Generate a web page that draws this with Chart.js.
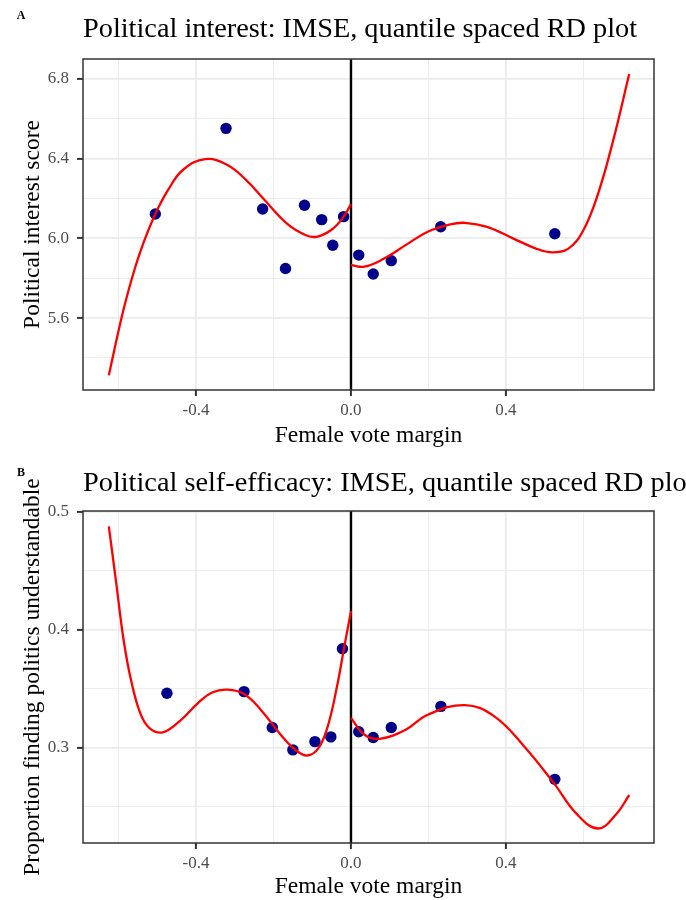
<!DOCTYPE html>
<html>
<head>
<meta charset="utf-8">
<script src="https://cdn.jsdelivr.net/npm/chart.js@4.4.1/dist/chart.umd.min.js"></script>
<style>
  html, body { margin: 0; padding: 0; background: #fff; }
  .panel { position: absolute; left: 0; width: 686px; height: 450px; }
  #panelA { top: 0; }
  #panelB { top: 450px; }
</style>
</head>
<body>
<div class="panel" id="panelA"><canvas id="chartA" width="686" height="450"></canvas></div>
<div class="panel" id="panelB"><canvas id="chartB" width="686" height="450"></canvas></div>
<script>
// shared x axis (female vote margin)
const xRange = [-0.6916, 0.782];
const cutoff = 0;

// Panel A: political interest, binned means
const interestBinX = [-0.505, -0.3225, -0.228, -0.169, -0.120, -0.0756, -0.047, -0.019, 0.020, 0.0574, 0.104, 0.2316, 0.526];
const interestBinY = [6.122, 6.552, 6.147, 5.849, 6.166, 6.094, 5.965, 6.109, 5.916, 5.821, 5.888, 6.058, 6.023];
// Panel A: polynomial fit
const interestFitLeftX = [-0.625, -0.5886, -0.56, -0.537, -0.505, -0.472, -0.434, -0.376, -0.319, -0.271, -0.223, -0.166, -0.118, -0.089, -0.051, -0.022, 0];
const interestFitLeftY = [5.313, 5.63, 5.835, 5.97, 6.122, 6.243, 6.343, 6.398, 6.368, 6.293, 6.192, 6.075, 6.017, 6.008, 6.042, 6.100, 6.172];
const interestFitRightX = [0, 0.035, 0.083, 0.141, 0.198, 0.256, 0.294, 0.351, 0.418, 0.476, 0.519, 0.562, 0.600, 0.638, 0.677, 0.718];
const interestFitRightY = [5.866, 5.858, 5.896, 5.966, 6.033, 6.070, 6.078, 6.058, 6.0, 5.950, 5.930, 5.950, 6.042, 6.226, 6.494, 6.825];
const interestRange = [5.239, 6.9];

// Panel B: political self-efficacy, binned means
const efficacyBinX = [-0.475, -0.276, -0.203, -0.150, -0.093, -0.052, -0.022, 0.020, 0.0574, 0.104, 0.232, 0.526];
const efficacyBinY = [0.346, 0.3474, 0.317, 0.298, 0.305, 0.309, 0.3837, 0.3133, 0.3085, 0.317, 0.3349, 0.273];
const efficacyFitLeftX = [-0.625, -0.606, -0.587, -0.568, -0.544, -0.520, -0.486, -0.443, -0.395, -0.357, -0.319, -0.276, -0.233, -0.185, -0.146, -0.113, -0.084, -0.060, -0.036, -0.017, 0];
const efficacyFitLeftY = [0.4875, 0.4399, 0.3916, 0.3576, 0.3292, 0.3165, 0.3128, 0.3221, 0.3377, 0.3468, 0.3491, 0.3454, 0.3321, 0.3122, 0.2986, 0.2932, 0.2994, 0.3179, 0.3519, 0.3860, 0.4157];
const efficacyFitRightX = [0, 0.035, 0.074, 0.141, 0.198, 0.294, 0.370, 0.447, 0.524, 0.581, 0.638, 0.686, 0.718];
const efficacyFitRightY = [0.325, 0.3108, 0.3074, 0.315, 0.3278, 0.336, 0.3264, 0.3009, 0.2696, 0.2441, 0.2313, 0.2441, 0.2597];
const efficacyRange = [0.219, 0.5006];

const serif = '"Liberation Serif", "DejaVu Serif", serif';

function zip(xs, ys) {
  return xs.map((x, i) => ({ x, y: ys[i] }));
}

function isMajor(v, step) {
  const r = v / step;
  return Math.abs(r - Math.round(r)) < 1e-6;
}

function fmt(v) {
  if (Math.abs(v) < 1e-9) v = 0;
  return v.toFixed(1);
}

// titles, panel letter, zero line and panel border
const panelText = {
  id: 'panelText',
  beforeDatasetsDraw(chart, args, opts) {
    const { ctx, chartArea, scales } = chart;
    const px = scales.x.getPixelForValue(cutoff);
    ctx.save();
    ctx.strokeStyle = '#000000';
    ctx.lineWidth = 2.4;
    ctx.beginPath();
    ctx.moveTo(px, chartArea.top);
    ctx.lineTo(px, chartArea.bottom);
    ctx.stroke();
    ctx.restore();
  },
  afterDatasetsDraw(chart, args, opts) {
    const { ctx, chartArea } = chart;
    ctx.save();
    ctx.strokeStyle = '#333333';
    ctx.lineWidth = 1.5;
    ctx.strokeRect(chartArea.left, chartArea.top, chartArea.right - chartArea.left, chartArea.bottom - chartArea.top);

    ctx.fillStyle = '#000000';
    ctx.font = 'bold 12px ' + serif;
    ctx.textAlign = 'center';
    ctx.textBaseline = 'alphabetic';
    ctx.fillText(opts.letter, 21, opts.letterY);

    ctx.font = '28.3px ' + serif;
    ctx.textAlign = 'left';
    ctx.fillText(opts.title, chartArea.left, opts.titleY);

    const cx = (chartArea.left + chartArea.right) / 2;
    const cy = (chartArea.top + chartArea.bottom) / 2;
    ctx.font = '23.5px ' + serif;
    ctx.textAlign = 'center';
    ctx.fillText(opts.xTitle, cx, opts.xTitleY);

    ctx.translate(38.5, cy);
    ctx.rotate(-Math.PI / 2);
    ctx.fillText(opts.yTitle, 0, 0);
    ctx.restore();
  }
};

function makePanel(canvasId, cfg) {
  const tickFont = { family: serif, size: 17 };
  const gridFor = (major) => ({
    color: '#EBEBEB',
    lineWidth: (c) => (c.tick && isMajor(c.tick.value, major) ? 1.8 : 0.9),
    tickColor: (c) => (c.tick && isMajor(c.tick.value, major) ? '#333333' : 'rgba(0,0,0,0)'),
    tickWidth: 2,
    tickLength: 6,
  });

  return new Chart(document.getElementById(canvasId), {
    type: 'scatter',
    data: {
      datasets: [
        {
          data: zip(cfg.fitLeftX, cfg.fitLeftY),
          showLine: true,
          borderColor: '#FF0000',
          borderWidth: 2.3,
          pointRadius: 0,
          tension: 0.4,
          order: 0,
        },
        {
          data: zip(cfg.fitRightX, cfg.fitRightY),
          showLine: true,
          borderColor: '#FF0000',
          borderWidth: 2.3,
          pointRadius: 0,
          tension: 0.4,
          order: 0,
        },
        {
          data: zip(cfg.binX, cfg.binY),
          backgroundColor: '#00008B',
          borderColor: '#00008B',
          borderWidth: 0,
          pointRadius: 5.7,
          order: 1,
        },
      ],
    },
    options: {
      responsive: false,
      animation: false,
      devicePixelRatio: 1,
      layout: { padding: { top: cfg.padTop, right: 32, left: 0, bottom: 0 } },
      scales: {
        x: {
          type: 'linear',
          min: xRange[0],
          max: xRange[1],
          afterFit: (s) => { s.height = cfg.xHeight; },
          border: { display: false },
          grid: gridFor(0.4),
          ticks: {
            stepSize: 0.2,
            includeBounds: false,
            autoSkip: false,
            maxRotation: 0,
            padding: 4,
            color: '#4D4D4D',
            font: tickFont,
            callback: (v) => (isMajor(v, 0.4) ? fmt(v) : ''),
          },
        },
        y: {
          type: 'linear',
          min: cfg.yRange[0],
          max: cfg.yRange[1],
          afterFit: (s) => { s.width = 83; },
          border: { display: false },
          grid: gridFor(cfg.yMajor),
          ticks: {
            stepSize: cfg.yStep,
            includeBounds: false,
            autoSkip: false,
            padding: 8,
            color: '#4D4D4D',
            font: tickFont,
            callback: (v) => (isMajor(v, cfg.yMajor) ? fmt(v) : ''),
          },
        },
      },
      plugins: {
        legend: { display: false },
        tooltip: { enabled: false },
        panelText: {
          letter: cfg.letter,
          letterY: cfg.letterY,
          title: cfg.title,
          titleY: cfg.titleY,
          xTitle: 'Female vote margin',
          xTitleY: cfg.xTitleY,
          yTitle: cfg.yTitle,
        },
      },
    },
    plugins: [panelText],
  });
}

makePanel('chartA', {
  binX: interestBinX, binY: interestBinY,
  fitLeftX: interestFitLeftX, fitLeftY: interestFitLeftY,
  fitRightX: interestFitRightX, fitRightY: interestFitRightY,
  yRange: interestRange, yStep: 0.2, yMajor: 0.4,
  padTop: 59, xHeight: 60,
  letter: 'A', letterY: 19,
  title: 'Political interest: IMSE, quantile spaced RD plot', titleY: 37,
  xTitleY: 442,
  yTitle: 'Political interest score',
});

makePanel('chartB', {
  binX: efficacyBinX, binY: efficacyBinY,
  fitLeftX: efficacyFitLeftX, fitLeftY: efficacyFitLeftY,
  fitRightX: efficacyFitRightX, fitRightY: efficacyFitRightY,
  yRange: efficacyRange, yStep: 0.05, yMajor: 0.1,
  padTop: 61, xHeight: 57,
  letter: 'B', letterY: 26,
  title: 'Political self-efficacy: IMSE, quantile spaced RD plot', titleY: 41,
  xTitleY: 443,
  yTitle: 'Proportion finding politics understandable',
});
</script>
</body>
</html>
